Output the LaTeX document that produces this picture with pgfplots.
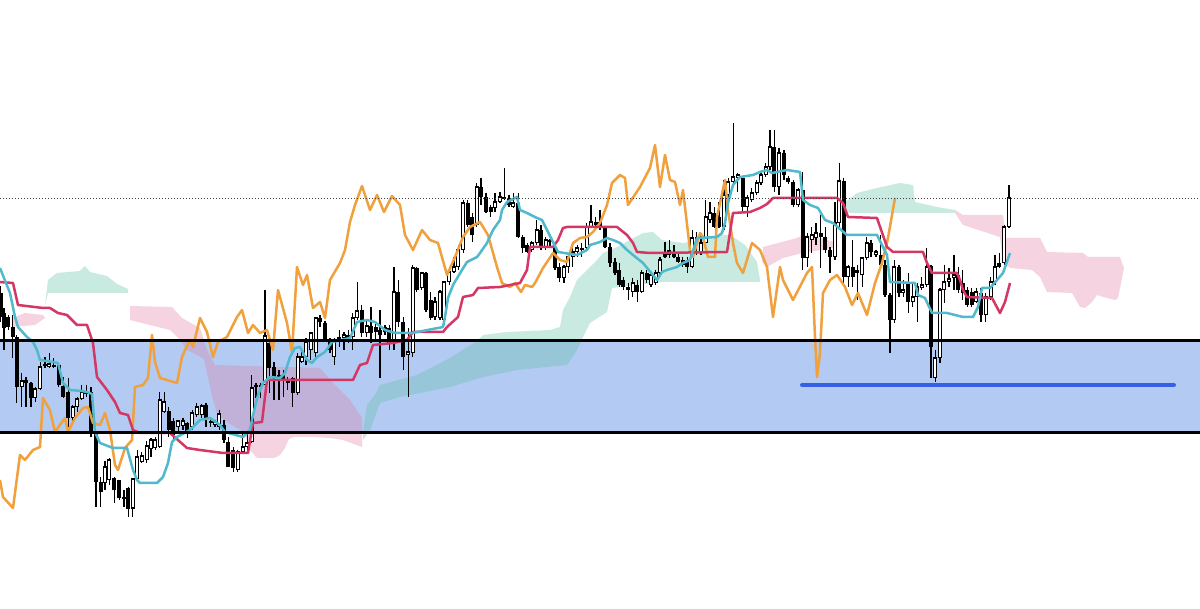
\documentclass[border=0pt]{standalone}
\usepackage{pgfplots}
\usepackage{pgfplotstable}
\pgfplotsset{compat=1.18}
\definecolor{bandblue}{RGB}{179,203,242}
\definecolor{pinkcloud}{RGB}{225,120,160}
\definecolor{greencloud}{RGB}{90,190,160}
\definecolor{tenkan}{RGB}{80,185,205}
\definecolor{kijun}{RGB}{213,55,100}
\definecolor{chikou}{RGB}{240,160,60}
\definecolor{supportblue}{RGB}{55,95,230}

% bearish candles: x, open, high, low, close (pixel scale, y grows downward)
\pgfplotstableread{
x o h l c
0.7 293 286 322 317
4 313 308 350 328
8.3 317 315 330 327
12.7 327 315 358 337
16.7 337 335 403 387
26 380 377 407 383
31 383 382 407 398
45 364 357 368 366
53.7 365 358 368 367
58.7 365 365 387 385
63.3 386 377 398 397
68.3 392 378 427 418
86.3 392 385 397 394
91 392 387 437 433
96 433 433 507 482
100.7 482 477 507 492
114.3 478 477 503 490
119.3 480 480 500 498
124 497 490 507 499
128.3 488 487 517 509
168.7 411 407 437 430
173.3 421 418 440 435
187.3 423 422 438 432
206 405 403 427 418
210.7 421 418 427 423
224 425 420 443 440
228.3 442 437 467 467
233.3 450 447 472 468
256 385 383 398 387
260.7 385 383 398 387
269.3 343 337 393 368
274 367 362 400 378
279 375 370 400 378
283.3 375 370 397 380
287.7 381 377 390 383
292.7 378 377 407 393
320 318 315 327 322
325 323 321 342 340
330 340 338 353 350
348.3 335 330 343 338
361.7 310 305 337 333
371 326 307 343 333
375.7 327 322 342 332
380 330 310 378 335
389.3 328 325 350 343
398.3 292 280 327 322
403.3 322 317 370 357
416.7 268 267 292 290
426 273 272 312 310
430.7 300 292 320 318
467.7 203 200 227 225
472.3 217 213 242 235
481 187 178 205 197
486 197 193 213 212
490.7 207 205 217 212
504.3 197 168 200 199
509 198 195 207 205
518.3 203 193 238 237
522.7 237 235 253 248
527.3 245 243 253 252
541 230 225 250 248
550 240 239 248 242
555 248 245 270 268
559.3 267 263 282 278
581.7 248 243 257 250
595.7 222 217 230 225
600 222 210 230 228
605 228 227 248 247
610 247 243 267 263
615 262 258 275 273
619.3 270 263 287 285
623.3 280 277 290 287
628.3 287 283 300 290
637.3 285 280 302 292
646.7 273 270 283 280
665 252 242 258 257
669.3 250 240 258 255
674 252 245 258 257
678.3 257 253 263 262
682.7 260 257 267 265
687.3 262 257 273 267
696.7 237 232 255 240
714.3 213 207 228 227
719 217 202 228 227
742.7 178 177 213 207
774.3 147 130 192 187
784 153 150 180 175
788.3 178 176 184 182
793.3 182 180 207 205
802.7 190 172 270 258
820.7 233 215 268 237
825.3 237 227 253 250
830 250 247 273 257
843.7 181 178 283 277
852.7 267 240 287 277
857.3 270 265 300 273
871 243 240 257 252
880.7 255 235 267 265
885 265 260 297 295
890 295 293 353 320
899 267 265 297 293
908.3 283 273 313 302
931 266 265 378 347
958.3 275 267 293 290
962.7 283 270 300 293
967.3 290 287 307 305
971.7 292 288 307 305
981 293 288 322 315
999.3 263 253 268 267
}\bear

% bullish candles: x, open, high, low, close
\pgfplotstableread{
x o h l c
21.7 387 373 407 381
35.3 398 387 402 389
40.3 389 362 390 367
49.3 367 353 368 364
72.7 418 405 423 407
77.3 407 397 412 399
81.7 399 385 400 392
105 483 461 490 467
109.3 480 458 485 460
132.7 508 478 517 479
137.3 479 450 480 457
141.7 462 452 463 456
146.7 460 441 463 446
151 449 438 457 440
155.3 448 437 450 440
159.7 447 392 448 400
164.3 412 392 413 402
178.3 427 420 432 421
183 426 418 430 421
192.3 427 410 430 413
196.7 415 403 417 407
201.7 415 404 418 406
215 425 420 427 422
219.3 427 410 430 414
237.7 470 450 472 452
242.7 452 432 453 447
247.3 447 432 450 443
251.7 442 375 443 388
265 385 290 385 336
297.7 393 353 395 357
301.7 362 350 363 357
306 357 338 365 342
310.7 350 332 360 333
315.7 353 317 357 318
334.3 357 338 365 340
339.3 342 330 347 338
344 338 332 350 335
352.7 337 313 350 318
357.3 318 282 320 311
366.7 333 320 337 326
385 332 325 335 328
394 342 267 350 292
408.3 355 328 397 352
412.7 353 265 357 268
421.7 288 272 290 273
435 317 297 320 302
440 318 290 320 292
444.3 320 282 325 282
449.3 282 267 285 272
454 272 257 273 267
458.3 267 245 270 250
463.3 250 200 253 203
476.7 225 183 227 187
495 208 193 212 202
500 202 192 203 197
513.3 207 193 208 203
531.7 250 241 252 243
536.7 243 220 245 230
545.7 248 237 250 240
564 278 265 283 267
568.3 267 255 273 257
572.7 257 248 267 252
577.3 252 245 257 248
586.7 248 223 250 227
591 227 205 227 222
632.7 292 278 297 283
641.7 292 270 293 273
651 285 273 287 275
655.7 283 270 285 273
660 273 257 275 260
692.3 267 230 268 238
701 253 235 255 243
705.7 243 200 247 217
710 220 202 223 213
724 227 180 230 195
728.3 195 178 198 182
733.3 182 123 185 177
737.7 178 173 192 175
747.3 207 195 217 198
751.7 200 188 202 193
756.7 193 180 195 183
761 183 172 185 175
765.7 175 163 177 167
770 167 130 170 147
779 187 148 195 153
798.3 205 188 207 190
807.3 258 233 267 237
811.7 240 227 253 235
816 238 223 245 233
835 257 202 260 223
839.3 223 163 227 181
848.3 277 265 287 267
862.3 275 257 287 258
866.7 258 237 260 243
876 255 250 257 252
894.3 320 260 323 267
903.3 293 280 297 290
912.7 302 283 307 297
917.3 297 283 322 287
921.7 288 277 290 285
926.7 285 248 287 267
935.3 378 350 382 358
940 358 288 363 290
944.3 290 265 303 282
949 282 268 287 279
954 278 255 290 275
976.3 302 288 303 292
985.7 315 293 322 297
990.7 297 277 300 282
995 282 255 285 267
1004.3 263 225 265 227
1009 227 185 228 198
}\bull

\begin{document}
\begin{tikzpicture}
\begin{axis}[
  width=1200pt, height=609pt, scale only axis,
  xmin=0, xmax=1200, ymin=0, ymax=609, y dir=reverse,
  hide axis, clip=true,
]
% background
\addplot[fill=white, draw=none] coordinates {(0,0) (1200,0) (1200,609) (0,609)};
% zone band
\addplot[fill=bandblue, draw=none] coordinates {(0,341) (1200,341) (1200,433) (0,433)};

% cloud patches
\addplot[fill=pinkcloud, fill opacity=0.32, draw=none] coordinates {
(12,318) (25,313) (43,315) (45,318) (35,325) (12,327)};
\addplot[fill=greencloud, fill opacity=0.32, draw=none] coordinates {
(45,305) (48,280) (57,273) (80,271) (85,266) (90,272) (107,276) (117,284) (128,289)
(128,293) (48,293)};
\addplot[fill=pinkcloud, fill opacity=0.32, draw=none] coordinates {
(130,306) (172,307) (182,318) (200,328) (207,350) (215,365) (320,368) (333,383) (350,400) (362,418)
(362,447) (343,440) (330,438) (313,437) (294,437) (289,439) (285,448) (280,455) (274,458) (257,458)
(250,450) (244,432) (230,424) (217,414) (212,396) (204,359) (199,356) (187,350) (180,340) (170,330)
(150,325) (130,320)};
\addplot[fill=greencloud, fill opacity=0.32, draw=none] coordinates {
(363,432) (367,405) (375,395) (380,385) (417,375) (450,358) (477,341) (483,335) (507,332) (550,330)
(560,327) (563,310) (570,297) (577,280) (590,267) (597,260) (603,253) (617,247) (643,233) (653,232)
(662,240) (683,243) (700,240) (717,235) (730,235) (745,245) (757,262) (760,280)
(760,282) (663,282) (612,288) (607,312) (590,323) (583,337) (577,350) (567,365) (517,370) (483,377)
(450,387) (420,393) (400,397) (380,403) (370,430) (363,440)};
\addplot[fill=pinkcloud, fill opacity=0.32, draw=none] coordinates {
(763,247) (797,238) (803,235) (817,237) (834,242) (838,246) (832,248) (803,253) (783,258) (767,267) (762,262)};
\addplot[fill=greencloud, fill opacity=0.32, draw=none] coordinates {
(840,205) (848,200) (857,193) (877,188) (900,183) (913,185) (915,202) (937,207) (955,210)
(955,213) (917,213) (850,213) (840,210)};
\addplot[fill=pinkcloud, fill opacity=0.32, draw=none] coordinates {
(955,210) (963,215) (1003,215) (1006,238) (1040,238) (1047,252) (1083,253) (1088,257) (1120,257)
(1124,268) (1118,298) (1115,300) (1103,297) (1097,295) (1092,302) (1085,308) (1080,307) (1072,293)
(1047,292) (1040,277) (1032,270) (1010,268) (1003,262) (1000,237) (963,225) (955,213)};

% candles: wicks
\addplot[black, line width=1.2pt, quiver={u=0, v=\thisrow{l}-\thisrow{h}}] table[x=x, y=h] {\bear};
\addplot[black, line width=1.2pt, quiver={u=0, v=\thisrow{l}-\thisrow{h}}] table[x=x, y=h] {\bull};
% bearish bodies
\addplot[black, line width=3.8pt, quiver={u=0, v=\thisrow{c}-\thisrow{o}}] table[x=x, y=o] {\bear};
% bullish bodies (outline + white interior)
\addplot[black, line width=3.9pt, quiver={u=0, v=\thisrow{o}-\thisrow{c}+1}] table[x=x, y expr=\thisrow{c}-0.5] {\bull};
\addplot[white, line width=1.8pt, quiver={u=0, v=\thisrow{o}-\thisrow{c}-1.6}] table[x=x, y expr=\thisrow{c}+0.8] {\bull};

% chikou span
\addplot[chikou, line width=2.5pt, line join=round] coordinates {
(0,480) (3,497) (13,508) (20,455) (25,460) (33,450) (40,447) (43,398) (50,410) (55,432) (62,422) (65,418)
(68,432) (75,418) (83,408) (88,407) (93,423) (100,425) (105,413) (110,430) (115,465) (118,470) (125,448)
(132,440) (135,387) (143,385) (148,378) (152,335) (155,362) (160,378) (177,383) (182,357) (185,350)
(190,340) (193,347) (200,318) (207,332) (213,357) (218,342) (227,337) (237,317) (242,310) (248,333)
(253,325) (260,333) (267,330) (273,350) (278,290) (287,323) (292,352) (297,267) (303,285) (307,275)
(313,308) (320,302) (325,318) (330,280) (340,263) (345,250) (350,222) (355,205) (362,186) (370,210)
(377,195) (384,212) (392,196) (400,205) (405,235) (413,250) (422,230) (430,240) (438,243) (447,275)
(455,257) (463,237) (470,227) (480,222) (488,235) (497,267) (502,283) (510,287) (515,283) (521,292)
(525,285) (532,287) (535,283) (543,268) (553,253) (560,260) (567,262) (573,243) (580,238) (587,237)
(593,232) (600,223) (607,205) (612,183) (620,175) (625,178) (628,205) (640,187) (650,168) (655,145)
(660,187) (665,155) (670,180) (675,182) (680,205) (683,190) (690,250) (693,257) (700,233) (703,237)
(708,257) (715,257) (717,217) (725,180) (728,210) (733,243) (737,263) (743,273) (752,243) (760,250)
(767,267) (773,317) (780,267) (783,280) (793,300) (807,273) (812,267) (815,337) (817,377) (820,353)
(823,293) (830,280) (837,275) (845,287) (852,305) (858,293) (867,315) (875,283) (882,263) (888,238)
(895,198)};
% kijun sen
\addplot[kijun, line width=2.5pt, line join=round] coordinates {
(0,282) (13,283) (18,305) (43,308) (50,308) (58,313) (67,315) (77,325) (87,325) (93,343) (97,377)
(107,390) (115,402) (120,413) (128,415) (133,430) (140,433) (170,433) (187,448) (200,450) (223,453)
(248,453) (253,423) (262,422) (267,380) (353,380) (360,365) (367,363) (373,345) (393,343) (407,340)
(413,332) (443,332) (447,327) (458,317) (463,297) (473,295) (478,288) (500,287) (520,283) (527,270)
(530,247) (553,247) (558,240) (563,228) (567,227) (617,227) (627,235) (633,243) (637,252) (650,253)
(727,252) (733,213) (750,212) (760,208) (767,204) (773,198) (837,198) (843,203) (848,217) (877,218)
(887,247) (893,252) (923,252) (927,263) (932,273) (957,273) (960,280) (963,290) (967,297) (992,298)
(1000,313) (1005,302) (1010,283)};
% tenkan sen
\addplot[tenkan, line width=2.5pt, line join=round] coordinates {
(0,268) (10,293) (15,317) (18,327) (27,337) (33,342) (37,350) (40,360) (53,362) (58,363) (63,383)
(70,390) (82,391) (87,392) (92,394) (95,432) (100,443) (113,448) (127,448) (133,470) (137,480)
(140,483) (157,483) (163,477) (168,463) (172,442) (177,437) (190,430) (200,420) (210,418) (220,425)
(225,432) (243,437) (250,430) (253,415) (258,395) (263,383) (270,377) (280,378) (285,373) (290,357)
(295,348) (300,347) (307,360) (312,363) (317,357) (325,352) (332,342) (350,338) (357,322) (367,320)
(375,322) (385,330) (395,333) (412,333) (443,327) (445,317) (448,298) (453,285) (462,270) (467,262)
(477,257) (480,253) (487,243) (493,230) (500,220) (502,210) (507,202) (517,197) (520,210) (527,213)
(537,218) (542,220) (547,230) (553,242) (558,252) (577,255) (587,250) (590,245) (600,242) (607,238)
(613,240) (620,243) (627,250) (633,255) (643,263) (657,280) (662,272) (667,270) (677,267) (683,263)
(690,260) (697,238) (717,237) (722,233) (725,223) (728,203) (733,185) (740,177) (753,175) (760,172)
(767,170) (772,173) (787,170) (800,172) (803,200) (810,205) (818,208) (825,220) (833,223) (847,235)
(877,235) (882,245) (887,255) (890,282) (915,283) (918,295) (925,298) (932,313) (947,313) (963,317)
(973,317) (978,307) (982,288) (990,288) (997,280) (1003,273) (1010,253)};

% zone borders
\addplot[black, line width=3pt] coordinates {(0,341) (1200,341)};
\addplot[black, line width=3pt] coordinates {(0,433) (1200,433)};
% support line
\addplot[supportblue, line width=4pt, line cap=round] coordinates {(802,385) (1174,385)};
% current price line
\addplot[black!75, line width=0.8pt, dash pattern=on 1pt off 2pt] coordinates {(0,198) (1200,198)};
\end{axis}
\end{tikzpicture}
\end{document}
